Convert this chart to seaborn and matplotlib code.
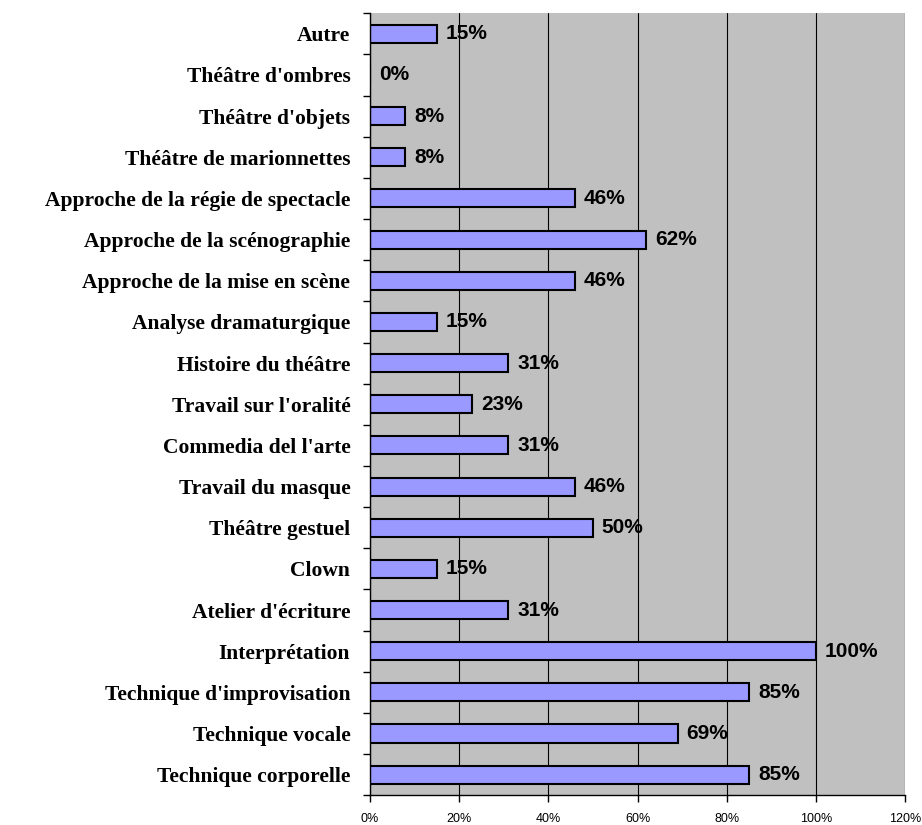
import pandas as pd
import matplotlib.pyplot as plt
import seaborn as sns

# === Data (top to bottom as shown) ===
categories = [
    "Autre", "Théâtre d'ombres", "Théâtre d'objets", "Théâtre de marionnettes",
    "Approche de la régie de spectacle", "Approche de la scénographie",
    "Approche de la mise en scène", "Analyse dramaturgique", "Histoire du théâtre",
    "Travail sur l'oralité", "Commedia del l'arte", "Travail du masque",
    "Théâtre gestuel", "Clown", "Atelier d'écriture", "Interprétation",
    "Technique d'improvisation", "Technique vocale", "Technique corporelle",
]
values = [15, 0, 8, 8, 46, 62, 46, 15, 31, 23, 31, 46, 50, 15, 31, 100, 85, 69, 85]
xticks = [0, 20, 40, 60, 80, 100, 120]

df = pd.DataFrame({"atelier": categories, "pct": values})

# === Plot ===
sns.set_style("white")
plt.rcParams["text.color"] = "black"
plt.rcParams["xtick.color"] = "black"
plt.rcParams["ytick.color"] = "black"

fig = plt.figure(figsize=(9.22, 8.25), dpi=100)
ax = fig.add_axes([0.401, 0.036, 0.581, 0.948])
ax.set_facecolor("#C0C0C0")

sns.barplot(data=df, x="pct", y="atelier", orient="h", color="#9999FF",
            edgecolor="black", linewidth=1.5, width=0.44, saturation=1, ax=ax)

for i, v in enumerate(values):
    ax.text(v + 2, i, f"{v}%", va="center", ha="left", fontsize=15,
            fontweight="bold", family="Liberation Sans", color="black")

ax.set_xlim(0, 120)
ax.set_ylim(len(categories) - 0.5, -0.5)
ax.set_xticks(xticks)
ax.set_xticklabels([f"{t}%" for t in xticks], family="Liberation Sans", fontsize=9)
ax.xaxis.grid(True, color="black", linewidth=0.8)
ax.set_axisbelow(True)

ax.set_yticks(range(len(categories)))
ax.set_yticklabels(categories, family="Liberation Serif", fontweight="bold", fontsize=15.5)
ax.set_yticks([i - 0.5 for i in range(len(categories) + 1)], minor=True)
ax.tick_params(axis="y", which="major", left=True, length=0, pad=14, labelcolor="black")
ax.tick_params(axis="y", which="minor", left=True, length=5, width=1, color="black", direction="out")
ax.tick_params(axis="x", bottom=True, length=5, width=1, color="black", direction="out", pad=8,
               labelcolor="black")

ax.set_xlabel("")
ax.set_ylabel("")
for side in ["top", "right"]:
    ax.spines[side].set_visible(False)
for side in ["left", "bottom"]:
    ax.spines[side].set_color("black")
    ax.spines[side].set_linewidth(1)

fig.savefig("out.png", dpi=100)
